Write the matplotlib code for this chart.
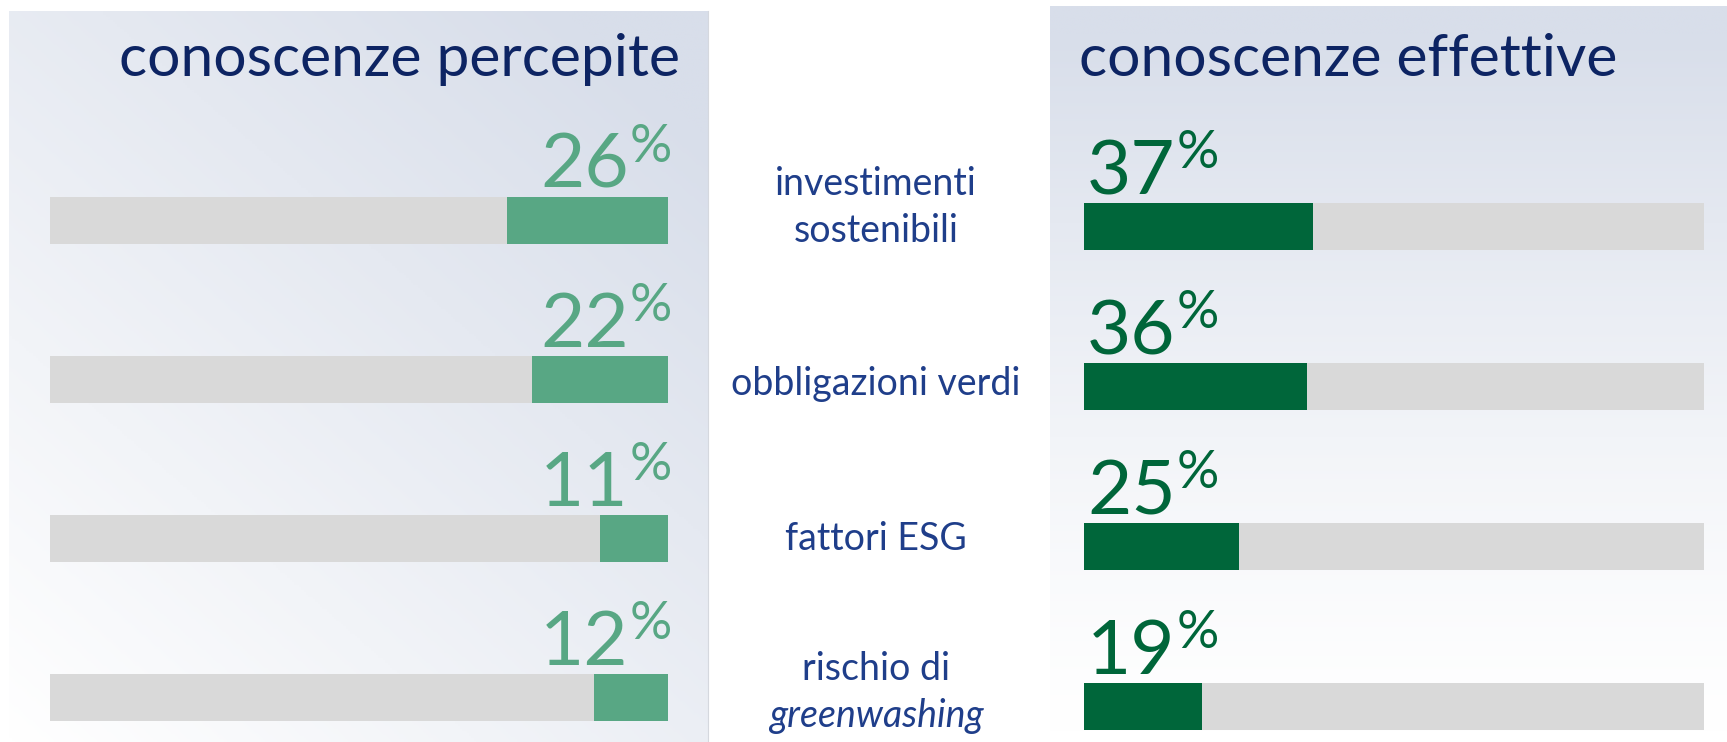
import numpy as np
import matplotlib.pyplot as plt
from matplotlib.colors import LinearSegmentedColormap
from matplotlib.transforms import blended_transform_factory

# data
label_lines = [["investimenti", "sostenibili"],
               ["obbligazioni verdi"],
               ["fattori ESG"],
               ["rischio di", "greenwashing"]]
italic_words = ["greenwashing"]
perceived = [26, 22, 11, 12]
actual = [37, 36, 25, 19]
title_left = "conoscenze percepite"
title_right = "conoscenze effettive"

# style / layout (pixels of a 1727x742 canvas)
W, H = 1727, 742
GREY = "#D9D9D9"
LIGHT_GREEN = "#58A784"
DARK_GREEN = "#00663A"
NAVY = "#0D2463"
LABEL_BLUE = "#1F3E8A"
BAR_PX = 47.0
label_nudge = [13, -5, 0, 5]   # px, up
LINE_PX = 47

plt.rcParams['font.family'] = ['Lato', 'DejaVu Sans']

fig = plt.figure(figsize=(W / 100, H / 100), dpi=100)
fig.patch.set_facecolor("white")


def px_rect(x0, y0, x1, y1):
    return [x0 / W, 1 - y1 / H, (x1 - x0) / W, (y1 - y0) / H]


bg_cmap = LinearSegmentedColormap.from_list("bg", ["#FFFFFF", "#D8DEEA"])


def panel_bg(x0, y0, x1, y1, diagonal):
    ax = fig.add_axes(px_rect(x0, y0, x1, y1), zorder=0)
    yy, xx = np.mgrid[0:1:300j, 0:1:300j]
    if diagonal:
        g = 0.6 * (1 - yy) + 0.5 * xx
    else:
        g = (1 - yy) ** 1.3 * 1.05
    ax.imshow(np.clip(g, 0, 1), cmap=bg_cmap, vmin=0, vmax=1,
              extent=(0, 1, 1, 0), aspect="auto", interpolation="bilinear")
    ax.set_xticks([])
    ax.set_yticks([])
    for s in ax.spines.values():
        s.set_visible(False)
    return ax


left_bg = panel_bg(9, 11, 708, 742, True)
left_bg.spines["right"].set_visible(True)
left_bg.spines["right"].set_color("#D5D8DE")
panel_bg(1050, 6, 1727, 742, False)


def bar_panel(x0, x1, y_first, step, values, color, green_right):
    ax = fig.add_axes([x0 / W, 0, (x1 - x0) / W, 1], zorder=2)
    ax.patch.set_alpha(0)
    ax.axis("off")
    ax.set_xlim(0, 100)
    ax.set_ylim((H - y_first) / step, -y_first / step)
    bar_h = BAR_PX / step
    rows = np.arange(len(values))
    vals = np.array(values)
    ax.barh(rows, np.full(len(vals), 100), height=bar_h, color=GREY)
    if green_right:
        ax.barh(rows, vals, left=100 - vals, height=bar_h, color=color)
    else:
        ax.barh(rows, vals, height=bar_h, color=color)

    for i, v in zip(rows, vals):
        top = i - bar_h / 2
        if green_right:
            pct = ax.annotate("%", xy=(100, top), xytext=(4, 73),
                              textcoords="offset pixels", ha="right", va="top",
                              fontsize=38, color=color)
            ax.annotate(str(v), xy=(0, top), xycoords=(pct, ax.transData),
                        xytext=(-1, 9), textcoords="offset pixels",
                        ha="right", va="baseline", fontsize=55, color=color)
        else:
            t = ax.annotate(str(v), xy=(0, top), xytext=(3, 8),
                            textcoords="offset pixels", ha="left", va="baseline",
                            fontsize=55, color=color)
            ax.annotate("%", xy=(1, top), xycoords=(t, ax.transData),
                        xytext=(1, 72), textcoords="offset pixels",
                        ha="left", va="top", fontsize=38, color=color)
    return ax


ax_left = bar_panel(50, 668, 220.5, 159.0, perceived, LIGHT_GREEN, True)
ax_right = bar_panel(1084, 1704, 226.0, 160.0, actual, DARK_GREEN, False)

# category labels in the middle column
trans = blended_transform_factory(fig.transFigure, ax_left.transData)
for i, lines in enumerate(label_lines):
    n = len(lines)
    for j, line in enumerate(lines):
        off = -((j - (n - 1) / 2) * LINE_PX) + label_nudge[i]
        ax_left.annotate(line, xy=(876 / W, i), xycoords=trans,
                         xytext=(0, off), textcoords="offset pixels",
                         ha="center", va="center", fontsize=27,
                         color=LABEL_BLUE,
                         style="italic" if line in italic_words else "normal",
                         annotation_clip=False)

# panel titles
fig.text(680 / W, 1 - 60 / H, title_left, ha="right", va="center",
         fontsize=42.3, color=NAVY, zorder=3)
fig.text(1079 / W, 1 - 60 / H, title_right, ha="left", va="center",
         fontsize=42.3, color=NAVY, zorder=3)

fig.savefig("out.png", dpi=100)
